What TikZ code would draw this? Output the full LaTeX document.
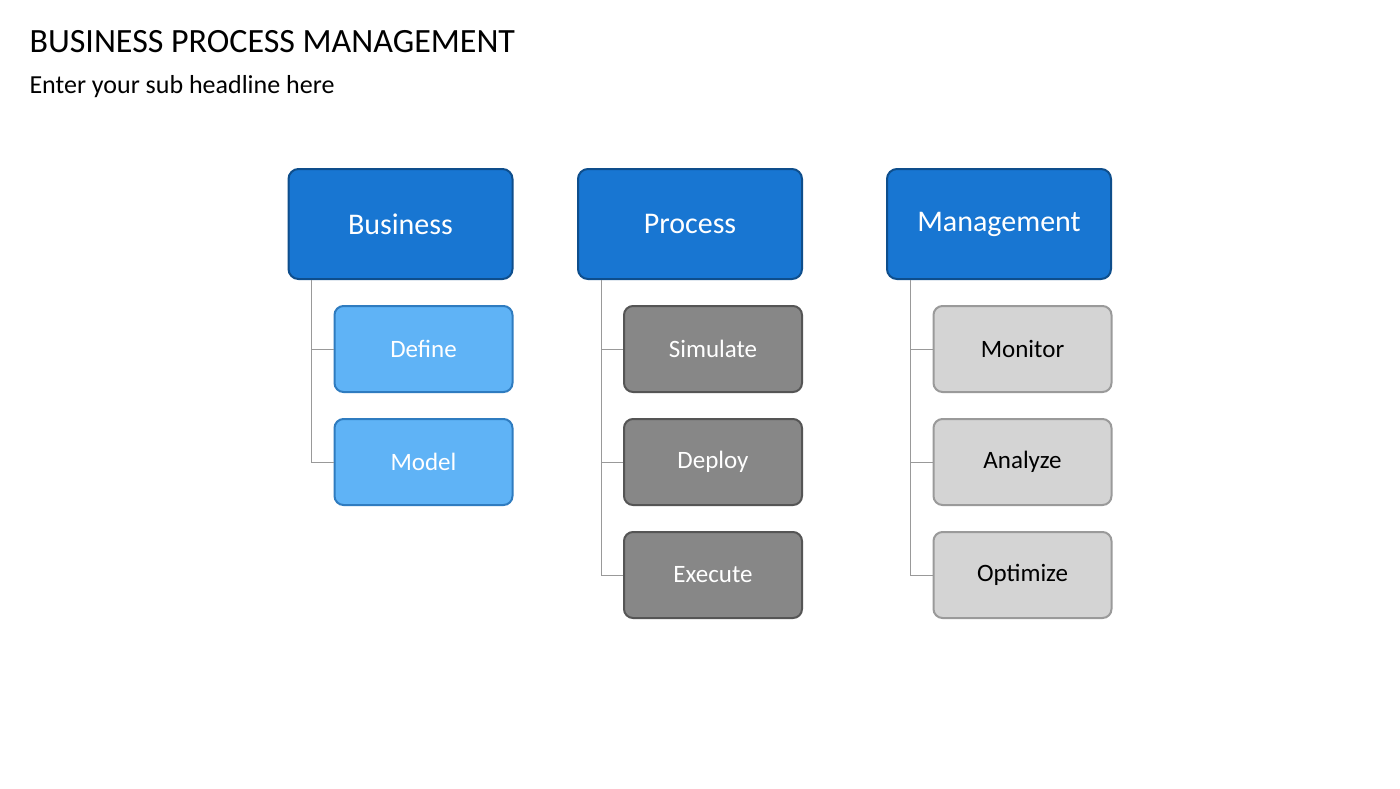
\documentclass[tikz,border=0pt]{standalone}
\usepackage{fontspec}
\setmainfont{Carlito}
\usetikzlibrary{positioning}
\definecolor{headblue}{HTML}{1876D2}
\definecolor{headedge}{HTML}{0E4E8C}
\definecolor{lightblue}{HTML}{5FB3F6}
\definecolor{lightedge}{HTML}{2F7CC0}
\definecolor{darkgray}{HTML}{878787}
\definecolor{darkedge}{HTML}{555555}
\definecolor{palegray}{HTML}{D4D4D4}
\definecolor{paleedge}{HTML}{9A9A9A}
\tikzset{
    head/.style={draw=headedge, line width=2pt, fill=headblue, rounded corners=10pt,
        minimum width=224pt, minimum height=110pt, text=white, font=\fontsize{30pt}{30pt}\selectfont},
    sub/.style={line width=2pt, rounded corners=9pt, minimum width=178pt, minimum height=86pt,
        font=\fontsize{25pt}{25pt}\selectfont},
    subblue/.style={sub, draw=lightedge, fill=lightblue, text=white},
    subdark/.style={sub, draw=darkedge, fill=darkgray, text=white},
    subpale/.style={sub, draw=paleedge, fill=palegray, text=black},
    tree/.style={draw=gray!80, line width=1pt}
}
\begin{document}
\begin{tikzpicture}[x=1pt, y=-1pt]
    \useasboundingbox[fill=white] (0,0) rectangle (1400,788);
    \node[anchor=west, font=\fontsize{34pt}{34pt}\selectfont] (title) at (26,42) {BUSINESS PROCESS MANAGEMENT};
    \node[anchor=west, font=\fontsize{26pt}{26pt}\selectfont] (subtitle) at (26,87) {Enter your sub headline here};
    % headers
    \node[head] (business) at (400.5,224) {Business};
    \node[head] (process) at (690,224) {Process};
    \node[head] (management) at (999,224) {Management};
    % column one
    \node[subblue] (define) at (423.5,349) {Define};
    \node[subblue] (model) at (423.5,462) {Model};
    % column two
    \node[subdark] (simulate) at (713,349) {Simulate};
    \node[subdark] (deploy) at (713,462) {Deploy};
    \node[subdark] (execute) at (713,575) {Execute};
    % column three
    \node[subpale] (monitor) at (1022.5,349) {Monitor};
    \node[subpale] (analyze) at (1022.5,462) {Analyze};
    \node[subpale] (optimize) at (1022.5,575) {Optimize};
    % connectors
    \draw[tree] (business.south west) ++(24,0) |- (define.west);
    \draw[tree] (business.south west) ++(24,0) |- (model.west);
    \foreach \top/\kid in {process/simulate, process/deploy, process/execute,
        management/monitor, management/analyze, management/optimize}
        \draw[tree] (\top.south west) ++(24,0) |- (\kid.west);
\end{tikzpicture}
\end{document}
